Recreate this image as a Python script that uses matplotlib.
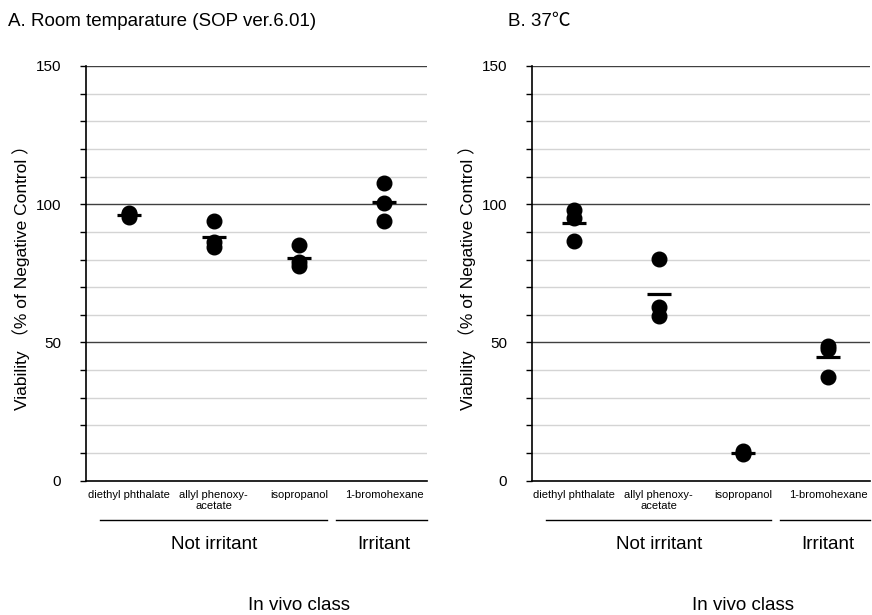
import numpy as np
import matplotlib.pyplot as plt

plt.rcParams['font.family'] = ['Liberation Sans', 'Noto Sans CJK JP', 'DejaVu Sans']

chemicals = ['diethyl phthalate', 'allyl phenoxy-\nacetate', 'isopropanol', '1-bromohexane']

# viability (% of negative control), three runs per chemical
room_temp = [
    [96.8, 95.3, 96.6],
    [94.0, 86.3, 84.5],
    [85.2, 79.2, 77.5],
    [107.7, 100.6, 94.0],
]
temp_37 = [
    [98.0, 95.0, 86.8],
    [80.2, 62.8, 59.4],
    [10.8, 10.0, 9.6],
    [48.6, 47.8, 37.4],
]

panel_titles = ['A. Room temparature (SOP ver.6.01)', 'B. 37\u2103']


def draw_panel(ax, data):
    x = np.arange(len(chemicals))
    for i, vals in enumerate(data):
        ax.plot([x[i]] * len(vals), vals, 'o', color='black', markersize=10.5,
                zorder=3)
        ax.plot(x[i], np.mean(vals), marker='_', color='black',
                markersize=17, markeredgewidth=2.3, zorder=4)

    ax.set_xlim(-0.5, len(chemicals) - 0.5)
    ax.set_ylim(0, 150)
    for y in range(10, 150, 10):
        if y % 50 == 0:
            ax.axhline(y, color='#404040', lw=1.0, zorder=1)
        else:
            ax.axhline(y, color='#d4d4d4', lw=1.0, zorder=1)
    ax.axhline(150, color='#404040', lw=1.0, zorder=1)

    ax.set_yticks(np.arange(0, 151, 10))
    ax.set_yticklabels([str(v) if v % 50 == 0 else '' for v in range(0, 151, 10)])
    ax.tick_params(axis='y', direction='out', length=4, width=1, labelsize=11,
                   pad=14)
    ax.set_xticks(x)
    ax.set_xticklabels(chemicals, fontsize=8, linespacing=1.1)
    ax.tick_params(axis='x', length=0, pad=7)

    for s in ['top', 'right']:
        ax.spines[s].set_visible(False)
    ax.spines['left'].set_linewidth(1.2)
    ax.spines['bottom'].set_linewidth(1.2)
    ax.set_ylabel('Viability （% of Negative Control ）', fontsize=12.5,
                  labelpad=4)

    # in vivo class brackets below the axis
    trans = ax.get_xaxis_transform()
    ax.plot([-0.33, 2.33], [-0.095, -0.095], color='black', lw=1.0,
            transform=trans, clip_on=False)
    ax.plot([2.43, 3.5], [-0.095, -0.095], color='black', lw=1.0,
            transform=trans, clip_on=False)
    ax.text(1.0, -0.155, 'Not irritant', ha='center', va='center',
            fontsize=13.5, transform=trans)
    ax.text(3.0, -0.155, 'Irritant', ha='center', va='center',
            fontsize=13.5, transform=trans)
    ax.text(2.0, -0.30, 'In vivo class', ha='center', va='center',
            fontsize=13.5, transform=trans)


fig = plt.figure(figsize=(8.72, 6.15), dpi=100)
ax1 = fig.add_axes([0.0986, 0.2184, 0.391, 0.6743])
ax2 = fig.add_axes([0.610, 0.2184, 0.388, 0.6743])

draw_panel(ax1, room_temp)
draw_panel(ax2, temp_37)

fig.text(8 / 872, 1 - 21 / 615, panel_titles[0], ha='left', va='center',
         fontsize=13.5)
fig.text(508 / 872, 1 - 21 / 615, panel_titles[1], ha='left', va='center',
         fontsize=13.5)

plt.savefig('out.png', dpi=100)
